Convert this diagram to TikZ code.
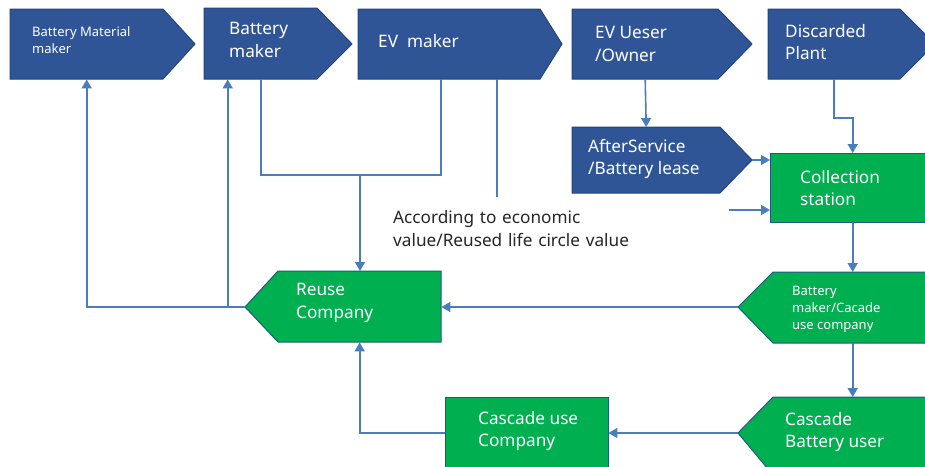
\documentclass[tikz,border=0pt]{standalone}
\usepackage{fontspec}
\setmainfont{Noto Sans}
\usetikzlibrary{arrows.meta,calc}

\definecolor{boxblue}{HTML}{2F5597}
\definecolor{boxblueedge}{HTML}{24457E}
\definecolor{boxgreen}{HTML}{00B050}
\definecolor{boxgreenedge}{HTML}{1F5A80}
\definecolor{linkblue}{HTML}{4A7EBB}
\definecolor{notegray}{HTML}{262626}

\tikzset{
  bluebox/.style={fill=boxblue, draw=boxblueedge, line width=1pt, line join=miter},
  greenbox/.style={fill=boxgreen, draw=boxgreenedge, line width=1pt, line join=miter},
  body/.style={rectangle, anchor=north west, inner sep=0pt, draw=none, fill=none},
  lbl/.style={text=white, align=left, anchor=west, inner sep=0pt,
              font=\fontsize{17.2}{22.8}\selectfont},
  smalllbl/.style={lbl, font=\fontsize{13}{17}\selectfont},
  conn/.style={draw=linkblue, line width=1.6pt},
  arr/.style={conn, -{Triangle[length=9pt,width=10pt]}},
}

\begin{document}
\begin{tikzpicture}[x=1pt,y=-1pt]
\useasboundingbox (0,0) rectangle (925,466);
\clip (0,0) rectangle (925,466);

% ---- top row: value-chain arrows pointing right ----
\path[bluebox] (10,9) -- (163,9) -- (195,44) -- (163,79) -- (10,79) -- cycle;
\node[body, minimum width=153pt, minimum height=70pt] (bmm) at (10,9) {};
\node[smalllbl] (bmmt) at (32,40) {Battery Material\\maker};

\path[bluebox] (204,8) -- (317,8) -- (352,44) -- (317,79) -- (204,79) -- cycle;
\node[body, minimum width=113pt, minimum height=71pt] (bm) at (204,8) {};
\node[lbl] (bmt) at (229,40) {Battery\\maker};

\path[bluebox] (358,9) -- (540,9) -- (562,44) -- (540,79) -- (358,79) -- cycle;
\node[body, minimum width=182pt, minimum height=70pt] (ev) at (358,9) {};
\node[lbl] (evt) at (378,41) {EV\ \ maker};

\path[bluebox] (572,9) -- (718,9) -- (752,44) -- (718,79) -- (572,79) -- cycle;
\node[body, minimum width=146pt, minimum height=70pt] (evu) at (572,9) {};
\node[lbl] (evut) at (595,44) {EV Ueser\\/Owner};

\path[bluebox] (768,9) -- (900,9) -- (935,44) -- (900,79) -- (768,79) -- cycle;
\node[body, minimum width=132pt, minimum height=70pt] (dp) at (768,9) {};
\node[lbl] (dpt) at (785,42) {Discarded\\Plant};

% ---- after-sales and collection ----
\path[bluebox] (572,127) -- (720,127) -- (752,160) -- (720,193) -- (572,193) -- cycle;
\node[body, minimum width=148pt, minimum height=66pt] (as) at (572,127) {};
\coordinate (astip) at (752,160);
\node[lbl] (ast) at (588,159) {AfterService\\/Battery lease};

\path[greenbox] (770,153) rectangle (935,222);
\node[body, minimum width=165pt, minimum height=69pt] (cs) at (770,153) {};
\node[lbl] (cst) at (800,188) {Collection\\station};

% ---- reuse / cascade chain: arrows pointing left ----
\path[greenbox] (245,307) -- (278,271) -- (441,271) -- (441,342) -- (278,342) -- cycle;
\node[body, minimum width=163pt, minimum height=71pt] (rc) at (278,271) {};
\coordinate (rctip) at (245,307);
\node[lbl] (rct) at (296,303) {Reuse\\Company};

\path[greenbox] (738,307) -- (773,272) -- (935,272) -- (935,343) -- (773,343) -- cycle;
\node[body, minimum width=162pt, minimum height=71pt] (bmc) at (773,272) {};
\coordinate (bmctip) at (738,307);
\node[smalllbl] (bmct) at (792,309) {Battery\\maker/Cacade\\use company};

\path[greenbox] (738,433) -- (773,397) -- (935,397) -- (935,475) -- (773,475) -- cycle;
\node[body, minimum width=162pt, minimum height=72pt] (cbu) at (773,397) {};
\coordinate (cbutip) at (738,433);
\node[lbl] (cbut) at (785,432) {Cascade\\Battery user};

\path[greenbox] (445,397) rectangle (608,475);
\node[body, minimum width=163pt, minimum height=72pt] (cuc) at (445,397) {};
\node[lbl] (cuct) at (478,431) {Cascade use\\Company};

% ---- connectors ----
% battery maker and EV maker feed the reuse company
\coordinate (bmdrop) at (bm.south);
\coordinate (evdrop) at ([xshift=-8pt]ev.south);
\coordinate (join) at (360,175);
\draw[conn] (bmdrop) |- (join) -| (evdrop);
\draw[arr] (join) -- (join |- rc.north);

% EV maker line running down behind the note
\coordinate (evdrop2) at ([xshift=48pt]ev.south);
\draw[conn] (evdrop2) -- ++(0,120);

% reuse company back to the material and battery makers
\coordinate (bmup) at ([xshift=-33pt]bm.south);
\draw[arr] (rctip) -| (bmm.south);
\draw[arr] (rctip -| bmup) -- (bmup);

% user side
\draw[arr] (evu.south) -- (as.north);
\coordinate (dpbend) at (dp.south |- 0,118);
\draw[arr] (dp.south) -- (dpbend) -| (cs.north);
\draw[arr] (astip) -- (astip -| cs.west);
\coordinate (freein) at (715,210);
\draw[arr] (freein) -- (freein -| cs.west);
\draw[arr] (cs.south) -- (cs.south |- bmc.north);
\draw[arr] (cs.south |- bmc.south) -- (cs.south |- cbu.north);
\draw[arr] (bmctip) -- (bmctip -| rc.east);
\draw[arr] (cbutip) -- (cbutip -| cuc.east);
\draw[arr] (cuc.west) -| (rc.south);

% decision note
\node[fill=white, anchor=north west, inner sep=0pt, minimum width=336pt,
      minimum height=62pt, text width=320pt, inner xsep=16pt, align=left,
      text=notegray, font=\fontsize{17.2}{22.8}\selectfont] (note) at (377,197)
  {According to economic\\value/Reused life circle value};
\end{tikzpicture}
\end{document}
